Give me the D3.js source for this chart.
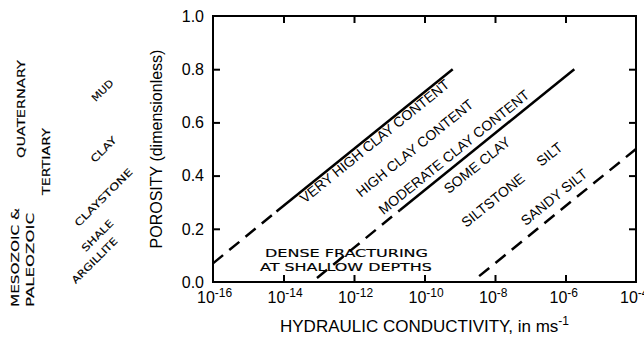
<!DOCTYPE html>
<html>
<head>
<meta charset="utf-8">
<script src="https://cdn.jsdelivr.net/npm/d3@7"></script>
<style>
  body { margin: 0; background: #fff; }
  svg { display: block; }
  text { font-family: "Liberation Sans", Arial, sans-serif; fill: #000; }
  .wide { font-family: "DejaVu Sans", sans-serif; stroke: #000; stroke-width: 0.15px; }
</style>
</head>
<body>
<svg width="644" height="341"></svg>
<script>
// x values are log10 of hydraulic conductivity (m/s), y values are porosity
var xTicks = [-16, -14, -12, -10, -8, -6, -4];
var yTicks = [0, 0.2, 0.4, 0.6, 0.8, 1.0];

// trend lines, [log10 K, porosity]
var veryHighDashed = [[-16, 0.07], [-14.2, 0.265]];
var veryHighSolid = [[-14.2, 0.265], [-9.2, 0.8]];
var moderateDashed = [[-13.05, 0.015], [-10.7, 0.27]];
var moderateSolid = [[-10.7, 0.27], [-5.75, 0.8]];
var sandySilt = [[-8.45, 0.022], [-4, 0.5]];

// sediment labels along the lines
var lineLabels = ["VERY HIGH CLAY CONTENT", "HIGH CLAY CONTENT", "MODERATE CLAY CONTENT",
                  "SOME CLAY", "SILTSTONE", "SILT", "SANDY SILT"];
var lineLabelK = [-11.33, -10.19, -9.08, -8.42, -7.97, -6.37, -6.24];
var lineLabelPor = [0.515, 0.489, 0.474, 0.425, 0.293, 0.466, 0.305];

var fractureLabel = ["DENSE FRACTURING", "AT SHALLOW DEPTHS"];
var ageLabels = ["QUATERNARY", "TERTIARY", "MESOZOIC &", "PALEOZOIC"];
var rockLabels = ["MUD", "CLAY", "CLAYSTONE", "SHALE", "ARGILLITE"];

var svg = d3.select("svg");
var margin = {left: 213, top: 16, right: 8, bottom: 59};
var width = +svg.attr("width") - margin.left - margin.right;
var height = +svg.attr("height") - margin.top - margin.bottom;

var x = d3.scaleLog().domain([1e-16, 1e-4]).range([0, width]);
var y = d3.scaleLinear().domain([0, 1]).range([height, 0]);

function px(k) { return x(Math.pow(10, k)); }

var g = svg.append("g")
    .attr("transform", "translate(" + margin.left + "," + margin.top + ")");

// inward ticks on all four sides
var kTicks = xTicks.map(function(k) { return Math.pow(10, k); });
var inner = yTicks.slice(1, -1);

function styleAxis(sel) {
    sel.select(".domain").remove();
    sel.selectAll(".tick line").attr("stroke", "#000").attr("stroke-width", 2);
}

g.append("g").attr("transform", "translate(0," + height + ")")
    .call(d3.axisBottom(x).tickValues(kTicks.slice(1, -1)).tickSize(-7).tickFormat(""))
    .call(styleAxis);
g.append("g")
    .call(d3.axisTop(x).tickValues(kTicks.slice(1, -1)).tickSize(-7).tickFormat(""))
    .call(styleAxis);
g.append("g")
    .call(d3.axisLeft(y).tickValues(inner).tickSize(-7).tickFormat(""))
    .call(styleAxis);
g.append("g").attr("transform", "translate(" + width + ",0)")
    .call(d3.axisRight(y).tickValues(inner).tickSize(-7).tickFormat(""))
    .call(styleAxis);

g.append("rect")
    .attr("width", width)
    .attr("height", height)
    .attr("fill", "none")
    .attr("stroke", "#000")
    .attr("stroke-width", 2);

// y tick labels
g.selectAll(".ylab")
    .data(yTicks)
  .enter().append("text")
    .attr("class", "ylab")
    .attr("x", -9)
    .attr("y", function(d) { return y(d); })
    .attr("dy", "0.36em")
    .attr("text-anchor", "end")
    .style("font-size", "16px")
    .text(function(d) { return d.toFixed(1); });

// x tick labels as powers of ten
var xlab = g.selectAll(".xlab")
    .data(xTicks)
  .enter().append("text")
    .attr("class", "xlab")
    .attr("x", function(d) { return px(d) - 16; })
    .attr("y", height + 21)
    .style("font-size", "16px");
xlab.append("tspan").text("10");
xlab.append("tspan")
    .attr("dy", -6)
    .style("font-size", "12px")
    .text(function(d) { return d; });

// axis titles
var xt = g.append("text")
    .attr("x", width / 2)
    .attr("y", height + 50)
    .attr("text-anchor", "middle")
    .style("font-size", "17px");
xt.append("tspan").text("HYDRAULIC CONDUCTIVITY, in ms");
xt.append("tspan").attr("dy", -7).style("font-size", "12px").text("-1");

g.append("text")
    .attr("transform", "translate(-51," + (height / 2) + ") rotate(-90)")
    .attr("text-anchor", "middle")
    .style("font-size", "16px")
    .text("POROSITY (dimensionless)");

// trend lines
var line = d3.line()
    .x(function(d) { return px(d[0]); })
    .y(function(d) { return y(d[1]); });

[veryHighSolid, moderateSolid].forEach(function(pts) {
    g.append("path").attr("d", line(pts))
        .attr("fill", "none").attr("stroke", "#000").attr("stroke-width", 2.5);
});
[veryHighDashed, moderateDashed, sandySilt].forEach(function(pts) {
    g.append("path").attr("d", line(pts))
        .attr("fill", "none").attr("stroke", "#000").attr("stroke-width", 2.5)
        .attr("stroke-dasharray", "13,8");
});

// angle of the lines on screen
var p0 = veryHighSolid[0], p1 = veryHighSolid[1];
var angle = Math.atan2(y(p1[1]) - y(p0[1]), px(p1[0]) - px(p0[0])) * 180 / Math.PI;

g.selectAll(".linelab")
    .data(lineLabels)
  .enter().append("text")
    .attr("class", "linelab")
    .attr("transform", function(d, i) {
        return "translate(" + px(lineLabelK[i]) + "," + y(lineLabelPor[i]) + ") rotate(" + angle + ")";
    })
    .attr("text-anchor", "middle")
    .style("font-size", "14px")
    .text(function(d) { return d; });

// wide lettering
function wideText(parent, txt, tx, ty, rot, len, size) {
    parent.append("text")
        .attr("class", "wide")
        .attr("transform", "translate(" + tx + "," + ty + ") rotate(" + rot + ")")
        .attr("text-anchor", "middle")
        .attr("textLength", len)
        .attr("lengthAdjust", "spacingAndGlyphs")
        .style("font-size", size + "px")
        .text(txt);
}

wideText(svg, fractureLabel[0], 346.5, 257, 0, 163, 10.5);
wideText(svg, fractureLabel[1], 346, 271, 0, 172, 10.5);

wideText(svg, ageLabels[0], 25, 109, -90, 98, 10.5);
wideText(svg, ageLabels[1], 50, 161.5, -90, 67, 10.5);
wideText(svg, ageLabels[2], 18.5, 257.5, -90, 99, 10.5);
wideText(svg, ageLabels[3], 33.5, 260, -90, 94, 10.5);

wideText(svg, rockLabels[0], 105, 93, -45, 26, 10);
wideText(svg, rockLabels[1], 106, 152, -45, 32, 10);
wideText(svg, rockLabels[2], 106, 200, -45, 77, 10);
wideText(svg, rockLabels[3], 100, 238, -45, 40, 10);
wideText(svg, rockLabels[4], 97, 263, -45, 60, 10);
</script>
</body>
</html>
